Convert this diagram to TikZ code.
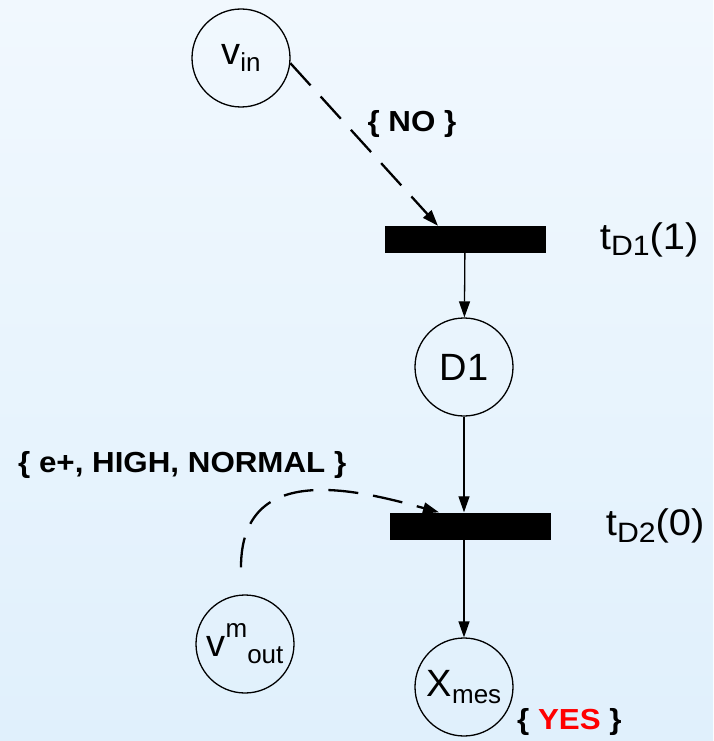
\documentclass[tikz,border=0pt]{standalone}
\usepackage{fontspec}
\setmainfont{Liberation Sans}
\newfontfamily\widefont[FakeStretch=1.08]{Liberation Sans}
\usetikzlibrary{arrows.meta,positioning}
\definecolor{bgtop}{RGB}{241,248,254}
\definecolor{bgbottom}{RGB}{224,240,252}
\definecolor{yesred}{RGB}{255,0,0}
\newcommand{\lowsub}[2][26]{\raisebox{-0.35ex}{\fontsize{#1}{#1}\selectfont #2}}
\newcommand{\highsup}[1]{\raisebox{0.95ex}{\fontsize{26}{26}\selectfont #1}}

\begin{document}
\begin{tikzpicture}[x=1pt,y=-1pt,
  place/.style={circle,draw,line width=1.3pt,minimum size=98pt,inner sep=0pt,font=\fontsize{38}{40}\selectfont},
  trans/.style={rectangle,fill=black,minimum width=161pt,minimum height=27pt,inner sep=0pt},
  flow/.style={line width=1.3pt,-{Triangle[length=16pt,width=11pt]}},
  dashflow/.style={flow,line width=2.3pt,dash pattern=on 30pt off 15pt},
  guard/.style={font=\widefont\fontsize{29}{31}\selectfont\bfseries,inner sep=0pt},
  tlabel/.style={font=\widefont\fontsize{37}{39}\selectfont,inner sep=0pt}]
\shade[top color=bgtop,bottom color=bgbottom] (0,0) rectangle (713,741);
% places and transitions
\node[place] (vin) at (241,58) {v\lowsub{in}};
\node[trans] (tD1) at (465,239.5) {};
\node[place] (D1) at (464,367) {D1};
\node[trans] (tD2) at (470,526) {};
\node[place] (vout) at (245,644) {v\highsup{m}\lowsub{out}};
\node[place] (Xmes) at (464,687) {X\lowsub{mes}};
% labels
\node[tlabel,right=54pt of tD1] (lbltD1) {t\lowsub[28]{D1}(1)};
\node[tlabel,right=55pt of tD2] (lbltD2) {t\lowsub[28]{D2}(0)};
\node[guard] (gNO) at (412,124) {\{ NO \}};
\node[guard,anchor=west] (gHIGH) at (18,465) {\{ e+, HIGH, NORMAL \}};
\node[guard,anchor=west] (gYES) at (517,722) {\{ \textcolor{yesred}{YES} \}};
% arcs
\draw[dashflow] (vin.-6) -- ([xshift=-27pt]tD1.north);
\draw[flow] (tD1) -- (D1);
\draw[flow] (D1) -- (D1.south |- tD2.north);
\draw[flow] (tD2.south -| Xmes.north) -- (Xmes);
\draw[dashflow,shorten <=27pt] ([xshift=-4pt]vout.north) .. controls +(0,-135) and +(-80,-22) .. ([xshift=-31pt]tD2.north);
\end{tikzpicture}
\end{document}
